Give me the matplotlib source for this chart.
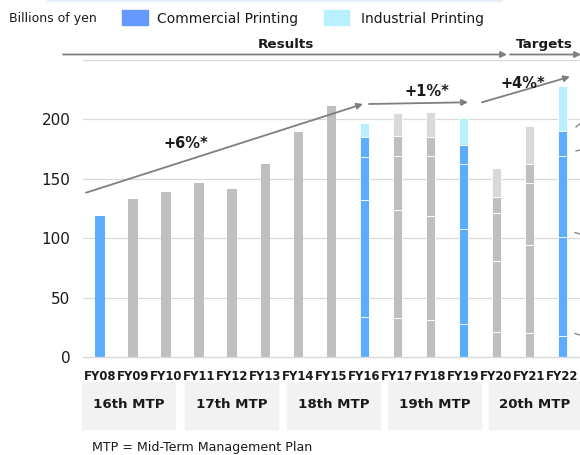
import matplotlib
matplotlib.use("Agg")
import matplotlib.pyplot as plt
from matplotlib.patches import Rectangle, FancyArrowPatch
from matplotlib.lines import Line2D

plt.rcParams['font.family'] = ['DejaVu Sans']

# ---- data ----
years = ["FY08", "FY09", "FY10", "FY11", "FY12", "FY13", "FY14", "FY15",
         "FY16", "FY17", "FY18", "FY19", "FY20", "FY21", "FY22"]
early_years = years[:8]
early_totals = [119, 133, 139, 146, 141, 162, 189, 211]
late_years = years[8:]
commercial_seg1 = [34, 33, 31, 27.5, 21, 20, 18]
commercial_seg2 = [98, 91, 88, 80, 60, 74, 83]
commercial_seg3 = [36, 45, 50, 55, 40, 52, 68]
commercial_seg4 = [17, 17, 16, 16, 14, 16, 21]
industrial = [12, 19, 21, 23, 24, 32, 38]
highlight_years = ["FY08", "FY16", "FY19", "FY22"]
growth_labels = ["+6%*", "+1%*", "+4%*"]
mtp_labels = ["16th MTP", "17th MTP", "18th MTP", "19th MTP", "20th MTP"]
yticks = [0, 50, 100, 150, 200]
legend_labels = ["Commercial Printing", "Industrial Printing"]

# ---- style ----
BLUE = "#5DADFF"
CYAN = "#B8F0FF"
GRAY = "#BFBFBF"
LGRAY = "#D9D9D9"
LEG_BLUE = "#6699FF"
ARROW = "#7F7F7F"
TXT = "#1A1A1A"

W, H = 580, 455
fig = plt.figure(figsize=(W / 100, H / 100), dpi=100)


def P(x, y):
    return (x / W, 1 - y / H)


ax = fig.add_axes([83 / W, 1 - 357 / H, (580 - 83) / W, (357 - 59.9) / H])
ax.set_xlim(-0.52, 14.53)
ax.set_ylim(0, 250)
for s in ["top", "right", "left"]:
    ax.spines[s].set_visible(False)
ax.spines["bottom"].set_color(LGRAY)
ax.spines["bottom"].set_linewidth(1.0)
for v in [50, 100, 150, 200, 250]:
    ax.axhline(v, color=LGRAY, lw=0.9, zorder=0)

bw = 0.29
xpos = {y: i for i, y in enumerate(years)}

# early single bars
for yr, v in zip(early_years, early_totals):
    c = BLUE if yr in highlight_years else GRAY
    ax.bar(xpos[yr], v, width=bw, color=c, zorder=2)

# stacked bars
for j, yr in enumerate(late_years):
    hl = yr in highlight_years
    main = BLUE if hl else GRAY
    top = CYAN if hl else LGRAY
    segs = [commercial_seg1[j], commercial_seg2[j], commercial_seg3[j],
            commercial_seg4[j], industrial[j]]
    cols = [main, main, main, main, top]
    bottom = 0
    for v, c in zip(segs, cols):
        ax.bar(xpos[yr], v, width=bw, bottom=bottom, color=c,
               edgecolor="white", linewidth=0.6, zorder=2)
        bottom += v

ax.set_yticks(yticks)
ax.set_yticklabels([str(t) for t in yticks], fontsize=11, color=TXT)
ax.tick_params(axis="y", length=0, pad=9)
ax.set_xticks(range(len(years)))
ax.set_xticklabels(years, fontsize=8.4, fontweight="bold", color=TXT)
ax.tick_params(axis="x", length=0, pad=9)

# ---- legend / header ----
fig.text(*P(9, 18.5), "Billions of yen", fontsize=9, color=TXT, va="center", ha="left")
fig.patches.append(Rectangle(P(122, 25), 26 / W, 15 / H, transform=fig.transFigure,
                             color=LEG_BLUE, figure=fig))
fig.text(*P(157, 18.5), legend_labels[0], fontsize=10, color=TXT, va="center", ha="left")
fig.patches.append(Rectangle(P(324, 25), 25 / W, 15 / H, transform=fig.transFigure,
                             color=CYAN, figure=fig))
fig.text(*P(361, 18.5), legend_labels[1], fontsize=10, color=TXT, va="center", ha="left")

# faint top line
fig.add_artist(Line2D([48 / W, 502 / W], [1 - 1 / H, 1 - 1 / H],
                      color="#E6EEF8", lw=1.5, transform=fig.transFigure))

# Results / Targets headers
fig.text(*P(286, 44.5), "Results", fontsize=9.7, fontweight="bold", color=TXT,
         ha="center", va="center")
fig.text(*P(544, 44.5), "Targets", fontsize=9.7, fontweight="bold", color=TXT,
         ha="center", va="center")


def arrow(x0, y0, x1, y1):
    fig.add_artist(FancyArrowPatch(
        P(x0, y0), P(x1, y1), transform=fig.transFigure,
        arrowstyle="-|>", mutation_scale=9, color=ARROW, lw=1.3,
        shrinkA=0, shrinkB=0))


arrow(63, 54.5, 507, 54.5)
arrow(510, 54.5, 581, 54.5)

# growth arrows
arrow(86, 192.7, 363, 104)
arrow(369, 104, 468, 102.3)
arrow(482, 102.3, 570, 76.7)
fig.text(*P(186, 143.5), growth_labels[0], fontsize=10.5, fontweight="bold", color=TXT,
         ha="center", va="center")
fig.text(*P(427, 91.5), growth_labels[1], fontsize=10.5, fontweight="bold", color=TXT,
         ha="center", va="center")
fig.text(*P(523, 84), growth_labels[2], fontsize=10.5, fontweight="bold", color=TXT,
         ha="center", va="center")

# small leader marks at right edge
for (x0, y0, x1, y1) in [(576, 127, 580, 123.5), (576, 151, 580, 150),
                         (575, 232.5, 580, 234), (575, 333.5, 580, 335)]:
    fig.add_artist(Line2D([x0 / W, x1 / W], [1 - y0 / H, 1 - y1 / H],
                          color=ARROW, lw=0.9, transform=fig.transFigure))

# MTP boxes
box_lefts = [81.7, 185, 287, 388, 489]
box_rights = [175, 277.7, 380, 481, 580]
for lab, l, r in zip(mtp_labels, box_lefts, box_rights):
    fig.patches.append(Rectangle(P(l, 429.3), (r - l) / W, (429.3 - 381.7) / H,
                                 transform=fig.transFigure, color="#F2F2F2", figure=fig))
    fig.text(*P((l + r) / 2 if r < 580 else 535, 404.5), lab, fontsize=9.6,
             fontweight="bold", color=TXT, ha="center", va="center")

fig.text(*P(91.5, 447.5), "MTP = Mid-Term Management Plan", fontsize=9.1, color=TXT,
         ha="left", va="center")

fig.savefig("out.png", dpi=100)
